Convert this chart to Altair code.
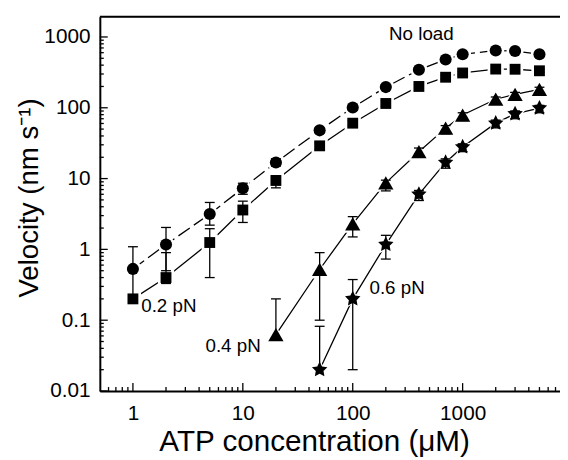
import altair as alt
import pandas as pd

# ---------------- data ----------------
series_names = ["No load", "0.2 pN", "0.4 pN", "0.6 pN"]

conc_noload = [1, 2, 5, 10, 20, 50, 100, 200, 400, 700, 1000, 2000, 3000, 5000]
vel_noload = [0.53, 1.17, 3.16, 7.3, 16.9, 48, 101, 196, 344, 480, 569, 645, 633, 569]
lo_noload = [0.2, 0.5, 2.2, 6.0, 15, 44, 92, 180, 320, 450, 540, 610, 600, 540]
hi_noload = [1.09, 2.04, 4.6, 8.6, 19, 52, 110, 212, 368, 510, 600, 680, 665, 600]

conc_02 = [1, 2, 5, 10, 20, 50, 100, 200, 400, 700, 1000, 2000, 3000, 5000]
vel_02 = [0.20, 0.40, 1.25, 3.6, 9.4, 29, 60.6, 115, 200, 270, 310, 352, 350, 333]
lo_02 = [0.20, 0.33, 0.40, 2.4, 7.4, 26, 55, 105, 185, 255, 295, 335, 335, 318]
hi_02 = [0.20, 0.9, 1.96, 4.8, 11, 32, 66, 125, 215, 285, 325, 370, 365, 350]

conc_04 = [20, 50, 100, 200, 400, 700, 1000, 2000, 3000, 5000]
vel_04 = [0.0625, 0.52, 2.3, 8.7, 24, 51.6, 79, 132, 155, 182]
lo_04 = [0.0625, 0.1, 1.5, 6.7, 20, 43, 66, 112, 130, 150]
hi_04 = [0.2, 0.9, 2.9, 9.5, 27, 56, 85, 142, 165, 195]

conc_06 = [50, 100, 200, 400, 700, 1000, 2000, 3000, 5000]
vel_06 = [0.02, 0.2, 1.17, 6.0, 16.9, 28, 60.6, 82, 99]
lo_06 = [0.02, 0.02, 0.73, 4.9, 14, 24, 52, 70, 85]
hi_06 = [0.082, 0.375, 1.58, 6.8, 19, 31, 67, 90, 108]

# annotation labels (left edge / baseline position, in data units)
label_text = ["No load", "0.2 pN", "0.4 pN", "0.6 pN"]
label_x = [214, 1.19, 4.57, 142]
label_y = [894, 0.131, 0.0361, 0.233]

# axis tick values
x_major = [1, 10, 100, 1000]
x_minor = [0.6, 0.7, 0.8, 0.9, 2, 3, 4, 5, 6, 7, 8, 9, 20, 30, 40, 50, 60, 70, 80, 90,
           200, 300, 400, 500, 600, 700, 800, 900, 2000, 3000, 4000, 5000, 6000, 7000]
y_major = [0.01, 0.1, 1, 10, 100, 1000]
y_minor = [m * d for d in [0.01, 0.1, 1, 10, 100] for m in range(2, 10)]

# ---------------- build tables ----------------
rows = []
for name, c, v, lo, hi in [
    ("No load", conc_noload, vel_noload, lo_noload, hi_noload),
    ("0.2 pN", conc_02, vel_02, lo_02, hi_02),
    ("0.4 pN", conc_04, vel_04, lo_04, hi_04),
    ("0.6 pN", conc_06, vel_06, lo_06, hi_06),
]:
    for i in range(len(c)):
        rows.append({"series": name, "conc": c[i], "vel": v[i], "lo": lo[i], "hi": hi[i]})
df = pd.DataFrame(rows)
labels_df = pd.DataFrame({"text": label_text, "lx": label_x, "ly": label_y})

W, H = 466, 379
FONT = "Arial, Liberation Sans"

xs = alt.Scale(type="log", domain=[0.5, 7690], nice=False)
ys = alt.Scale(type="log", domain=[0.01, 1930], nice=False)

x_axis = alt.Axis(values=x_major, format="~g", ticks=False, grid=False,
                  labelFont=FONT, labelFontSize=21, labelColor="black",
                  labelBaseline="alphabetic", labelPadding=29, labelFlush=False,
                  labelOverlap=False, domainColor="black", domainWidth=2,
                  title="ATP concentration (\u03bcM)", titleFont=FONT, titleFontSize=30,
                  titleFontWeight="normal", titleColor="black",
                  titleX=217, titleY=60, titleBaseline="alphabetic")
y_axis = alt.Axis(values=y_major, format="~g", ticks=False, grid=False,
                  labelFont=FONT, labelFontSize=21, labelColor="black",
                  labelPadding=10, labelFlush=False, labelOverlap=False,
                  domainColor="black", domainWidth=2,
                  title="Velocity (nm s\u207b\u00b9)", titleFont=FONT, titleFontSize=28,
                  titleFontWeight="normal", titleColor="black",
                  titleX=-63, titleY=183, titleAngle=270, titleBaseline="alphabetic")


def X(field):
    return alt.X(field, type="quantitative", scale=xs, axis=x_axis)


def Y(field):
    return alt.Y(field, type="quantitative", scale=ys, axis=y_axis)


STAR = ("M0,-1L0.294,-0.405L0.951,-0.309L0.476,0.155L0.588,0.809L0,0.5"
        "L-0.588,0.809L-0.476,0.155L-0.951,-0.309L-0.294,-0.405Z")
shape_scale = alt.Scale(domain=series_names, range=["circle", "square", "triangle-up", STAR])
size_scale = alt.Scale(type="ordinal", domain=series_names, range=[150, 121, 240, 270])
halo_scale = alt.Scale(type="ordinal", domain=series_names, range=[300, 270, 440, 470])

# ticks
xt_major = alt.Chart(pd.DataFrame({"tv": x_major})).mark_rule(color="black", strokeWidth=1.3).encode(
    x=X("tv"), y=alt.value(H), y2=alt.value(H - 8))
xt_minor = alt.Chart(pd.DataFrame({"tv": x_minor})).mark_rule(color="black", strokeWidth=1.3).encode(
    x=X("tv"), y=alt.value(H), y2=alt.value(H - 4))
yt_major = alt.Chart(pd.DataFrame({"tv": y_major})).mark_rule(color="black", strokeWidth=1.3).encode(
    y=Y("tv"), x=alt.value(0), x2=alt.value(8))
yt_minor = alt.Chart(pd.DataFrame({"tv": y_minor})).mark_rule(color="black", strokeWidth=1.3).encode(
    y=Y("tv"), x=alt.value(0), x2=alt.value(4))
top_frame = alt.Chart(pd.DataFrame({"a": [0]})).mark_rule(color="black", strokeWidth=2).encode(
    x=alt.value(0), x2=alt.value(W), y=alt.value(0))

base = alt.Chart(df)

line_dash = base.transform_filter(alt.datum.series == "No load").mark_line(
    color="black", strokeWidth=1.3, strokeDash=[14, 5]).encode(
    x=X("conc"), y=Y("vel"), detail="series:N", order="conc:Q")
line_solid = base.transform_filter(alt.datum.series != "No load").mark_line(
    color="black", strokeWidth=1.3).encode(
    x=X("conc"), y=Y("vel"), detail="series:N", order="conc:Q")

halo = base.mark_point(filled=True, color="white", opacity=1).encode(
    x=X("conc"), y=Y("vel"),
    shape=alt.Shape("series:N", scale=shape_scale, legend=None),
    size=alt.Size("series:N", scale=halo_scale, legend=None))

err = base.mark_rule(color="black", strokeWidth=1.3).encode(
    x=X("conc"), y=Y("lo"), y2="hi")
cap_lo = base.transform_filter(alt.datum.lo < alt.datum.vel).mark_point(
    shape="M-1,0L1,0", color="black", strokeWidth=1.3, size=100, filled=False, opacity=1).encode(
    x=X("conc"), y=Y("lo"))
cap_hi = base.transform_filter(alt.datum.hi > alt.datum.vel).mark_point(
    shape="M-1,0L1,0", color="black", strokeWidth=1.3, size=100, filled=False, opacity=1).encode(
    x=X("conc"), y=Y("hi"))

markers = base.mark_point(filled=True, color="black", opacity=1).encode(
    x=X("conc"), y=Y("vel"),
    shape=alt.Shape("series:N", scale=shape_scale, legend=None),
    size=alt.Size("series:N", scale=size_scale, legend=None))

texts = alt.Chart(labels_df).mark_text(
    font=FONT, fontSize=19, color="black", align="left", baseline="alphabetic").encode(
    x=X("lx"), y=Y("ly"), text="text:N")

chart = alt.layer(
    xt_major, xt_minor, yt_major, yt_minor, top_frame,
    line_dash, line_solid, halo, err, cap_lo, cap_hi, markers, texts
).resolve_scale(shape="independent", size="independent").properties(
    width=W, height=H,
    padding={"left": 93, "top": 6, "right": 0, "bottom": 66},
    autosize=alt.AutoSizeParams(type="none"),
).configure_view(stroke=None).configure(background="white")

chart.save("out.html", embed_options={"renderer": "svg", "actions": False})
